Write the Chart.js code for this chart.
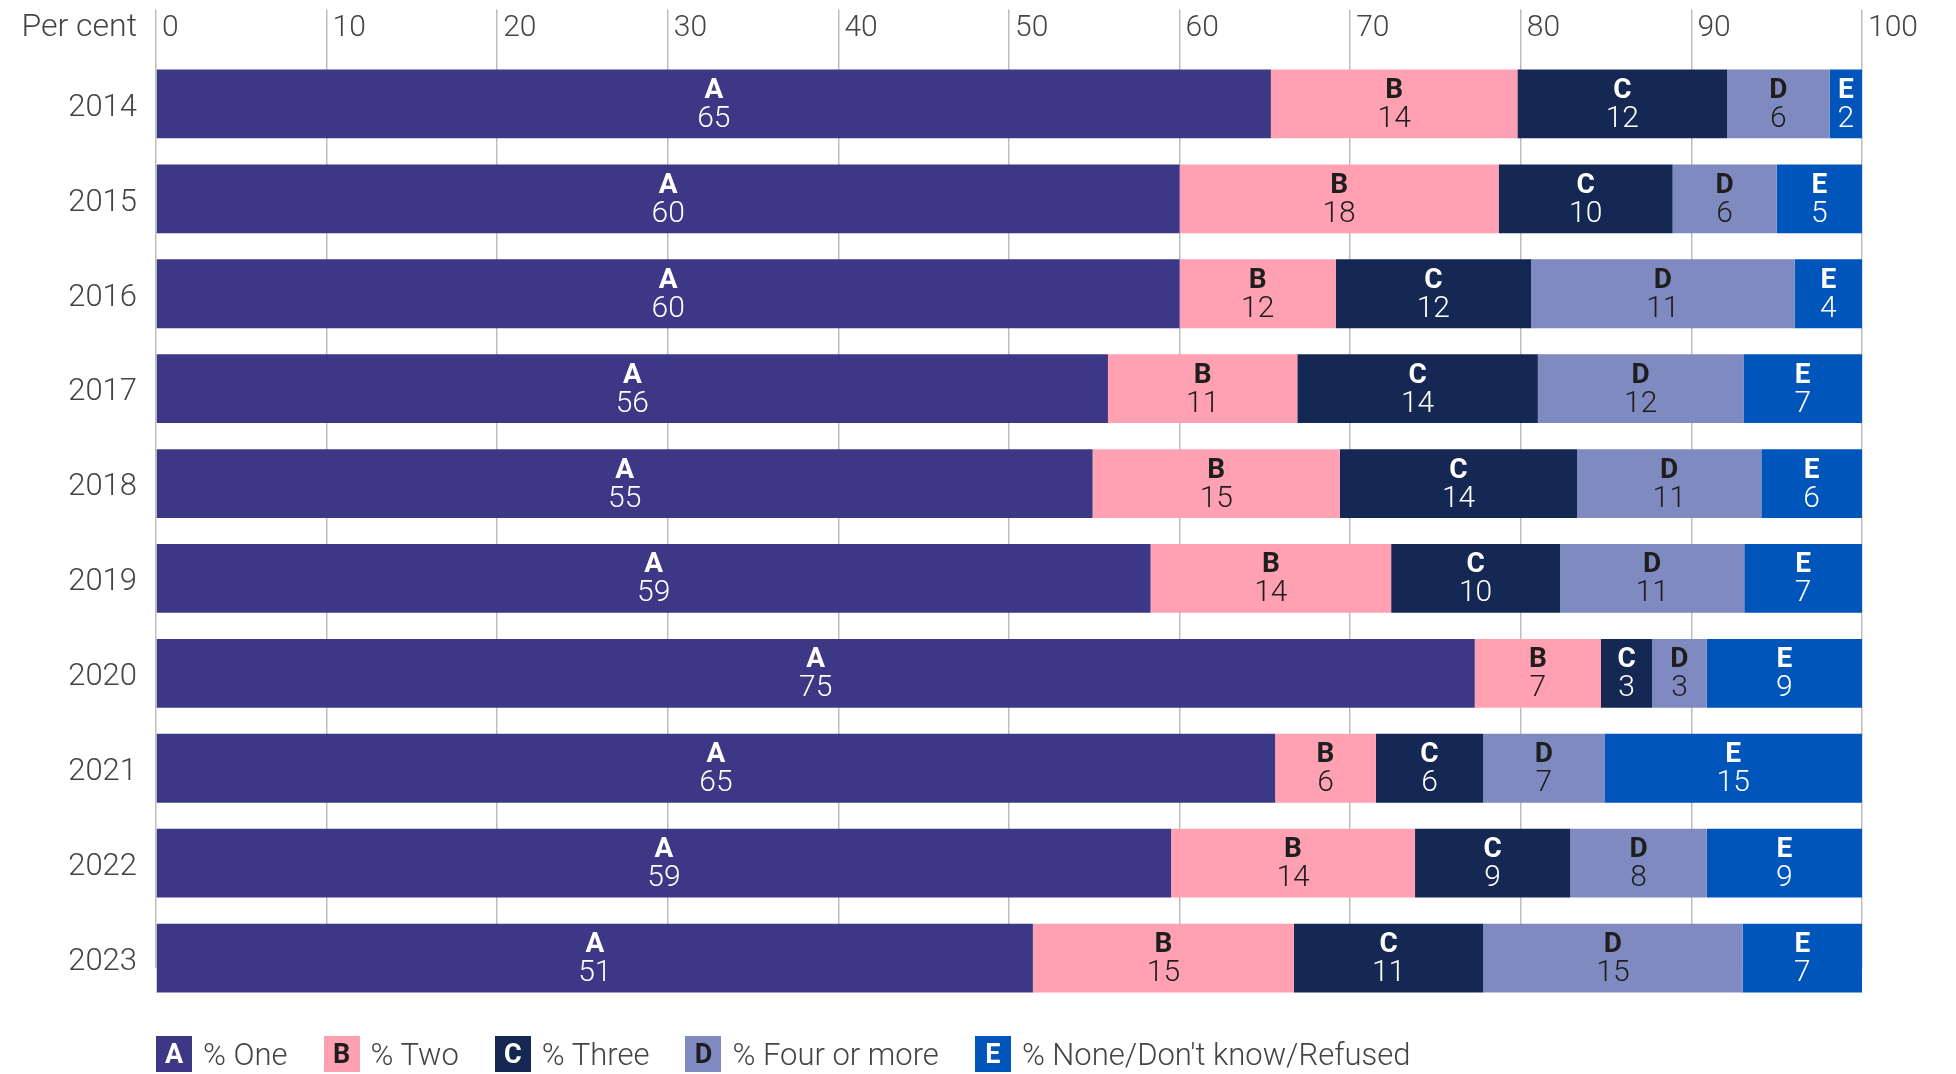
<!DOCTYPE html>
<html>
<head>
<meta charset="utf-8">
<script src="https://cdn.jsdelivr.net/npm/chart.js@4.4.1/dist/chart.umd.min.js"></script>
<style>
  body { margin: 0; background: #fff; position: relative; width: 1956px; height: 1074px; overflow: hidden; }
  #legend { position: absolute; left: 156px; top: 1036px; display: flex; font-family: Roboto, sans-serif; font-weight: 300; font-size: 31px; color: #444; }
  .item { display: flex; align-items: center; margin-right: 36px; height: 36px; }
  .box { width: 36px; height: 36px; display: flex; align-items: center; justify-content: center; font-weight: 700; font-size: 27px; margin-right: 11px; }
</style>
</head>
<body>
<canvas id="myChart" width="1956" height="1074"></canvas>
<div id="legend"></div>
<script>
const years = ['2014', '2015', '2016', '2017', '2018', '2019', '2020', '2021', '2022', '2023'];
const seriesNames = ['% One', '% Two', '% Three', '% Four or more', "% None/Don't know/Refused"];
const letters = ['A', 'B', 'C', 'D', 'E'];

// bar shares (stacked to 100)
const one   = [65.35, 60.0, 60.0, 55.8, 54.9, 58.3, 77.3, 65.6, 59.5, 51.4];
const two   = [14.45, 18.7, 9.15, 11.1, 14.5, 14.1, 7.4, 5.9, 14.3, 15.3];
const three = [12.3, 10.2, 11.45, 14.1, 13.9, 9.9, 3.0, 6.3, 9.1, 11.1];
const four  = [6.0, 6.1, 15.45, 12.05, 10.8, 10.8, 3.2, 7.1, 8.0, 15.2];
const none  = [1.9, 5.0, 3.95, 6.95, 5.9, 6.9, 9.1, 15.1, 9.1, 7.0];

// figures printed on the bars
const oneLabels   = [65, 60, 60, 56, 55, 59, 75, 65, 59, 51];
const twoLabels   = [14, 18, 12, 11, 15, 14, 7, 6, 14, 15];
const threeLabels = [12, 10, 12, 14, 14, 10, 3, 6, 9, 11];
const fourLabels  = [6, 6, 11, 12, 11, 11, 3, 7, 8, 15];
const noneLabels  = [2, 5, 4, 7, 6, 7, 9, 15, 9, 7];

const xTicks = [0, 10, 20, 30, 40, 50, 60, 70, 80, 90, 100];

const colours = ['#3d3885', '#ffa0b3', '#152853', '#7e8ac0', '#0055bb'];
const textColours = ['#ffffff', '#1e1e1e', '#ffffff', '#1e1e1e', '#ffffff'];

const values = [one, two, three, four, none];
const printed = [oneLabels, twoLabels, threeLabels, fourLabels, noneLabels];

const segmentLabels = {
  id: 'segmentLabels',
  beforeDatasetsDraw(chart) {
    // gridlines stop just below the middle of the last row
    const area = chart.chartArea;
    const yEnd = chart.scales.y.getPixelForValue(years.length - 1) + 10;
    const c = chart.ctx;
    c.save();
    c.fillStyle = '#fff';
    c.fillRect(area.left - 2, yEnd, area.right - area.left + 4, area.bottom - yEnd + 2);
    c.restore();
  },
  afterDatasetsDraw(chart) {
    const c = chart.ctx;
    c.save();
    c.textAlign = 'center';
    c.textBaseline = 'alphabetic';
    chart.data.datasets.forEach((ds, i) => {
      chart.getDatasetMeta(i).data.forEach((bar, j) => {
        const cx = (bar.x + bar.base) / 2;
        c.fillStyle = textColours[i];
        c.font = 'bold 28px Roboto';
        c.fillText(letters[i], cx, bar.y - 6);
        c.font = '300 30px Roboto';
        c.fillText(String(printed[i][j]), cx, bar.y + 23);
      });
    });
    c.restore();
  },
  afterDraw(chart) {
    const c = chart.ctx;
    c.save();
    c.font = '300 32px Roboto';
    c.fillStyle = '#444';
    c.textAlign = 'right';
    c.textBaseline = 'alphabetic';
    c.fillText('Per cent', chart.scales.y.right - 19, 36);
    c.restore();
  }
};

const ctx = document.getElementById('myChart');

new Chart(ctx, {
  type: 'bar',
  data: {
    labels: years,
    datasets: values.map((v, i) => ({
      label: seriesNames[i],
      data: v,
      backgroundColor: colours[i],
      borderWidth: 0,
      barPercentage: 0.725,
      categoryPercentage: 1
    }))
  },
  options: {
    indexAxis: 'y',
    responsive: false,
    animation: false,
    layout: { padding: { top: 0, left: 0, right: 94, bottom: 68.5 } },
    plugins: { legend: { display: false }, tooltip: { enabled: false } },
    scales: {
      x: {
        position: 'top',
        stacked: true,
        min: 0,
        max: 100,
        afterBuildTicks(scale) { scale.ticks = xTicks.map(v => ({ value: v })); },
        afterFit(scale) { scale.height = 56.5; scale.paddingLeft = 0; scale.paddingRight = 0; },
        border: { display: false },
        grid: { color: '#bdbdbd', lineWidth: 1.5, drawTicks: true, tickLength: 47, tickColor: '#bdbdbd', tickWidth: 1.5 },
        ticks: {
          align: 'start',
          labelOffset: 6,
          padding: -37,
          autoSkip: false,
          maxRotation: 0,
          color: '#444',
          font: { family: 'Roboto', size: 30, weight: 300 }
        }
      },
      y: {
        stacked: true,
        afterFit(scale) { scale.width = 156; scale.paddingTop = 0; scale.paddingBottom = 0; },
        border: { display: false },
        grid: { display: false, drawTicks: false },
        ticks: {
          padding: 19,
          labelOffset: 4,
          color: '#444',
          font: { family: 'Roboto', size: 31, weight: 300 }
        }
      }
    }
  },
  plugins: [segmentLabels]
});

const legend = document.getElementById('legend');
seriesNames.forEach((name, i) => {
  const item = document.createElement('div');
  item.className = 'item';
  const box = document.createElement('div');
  box.className = 'box';
  box.style.background = colours[i];
  box.style.color = textColours[i];
  box.textContent = letters[i];
  const txt = document.createElement('span');
  txt.textContent = name;
  item.appendChild(box);
  item.appendChild(txt);
  legend.appendChild(item);
});
</script>
</body>
</html>
